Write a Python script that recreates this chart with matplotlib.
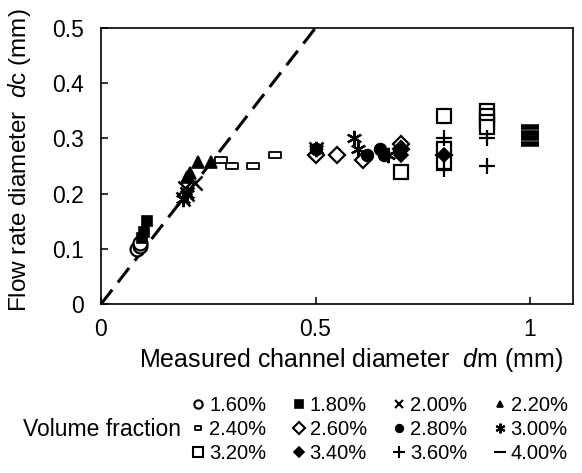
import matplotlib

matplotlib.use("Agg")
import matplotlib.pyplot as plt
from matplotlib.lines import Line2D
from matplotlib.path import Path

plt.rcParams.update(
    {
        "font.family": ["Liberation Sans", "DejaVu Sans"],
        "mathtext.fontset": "custom",
        "mathtext.it": "Liberation Sans:italic",
        "mathtext.rm": "Liberation Sans",
    }
)

# measured channel diameter dm (mm) and flow rate diameter dc (mm), per volume fraction
labels = ["1.60%", "1.80%", "2.00%", "2.20%", "2.40%", "2.60%",
          "2.80%", "3.00%", "3.20%", "3.40%", "3.60%", "4.00%"]

x_160 = [0.085, 0.09, 0.09]
y_160 = [0.10, 0.105, 0.11]
x_180 = [0.095, 0.10, 0.108]
y_180 = [0.12, 0.13, 0.15]
x_200 = [0.19, 0.195, 0.20, 0.22, 0.50]
y_200 = [0.19, 0.21, 0.20, 0.22, 0.28]
x_220 = [0.20, 0.207, 0.226, 0.257]
y_220 = [0.23, 0.237, 0.257, 0.257]
x_240 = [0.28, 0.305, 0.355, 0.405]
y_240 = [0.26, 0.25, 0.25, 0.27]
x_260 = [0.50, 0.55, 0.61, 0.70, 0.70, 0.80]
y_260 = [0.27, 0.27, 0.26, 0.29, 0.28, 0.27]
x_280 = [0.50, 0.62, 0.65, 0.66]
y_280 = [0.28, 0.27, 0.28, 0.27]
x_300 = [0.19, 0.20, 0.50, 0.59, 0.60, 0.67]
y_300 = [0.19, 0.20, 0.28, 0.30, 0.28, 0.27]
x_320 = [0.70, 0.80, 0.80, 0.80, 0.90, 0.90, 0.90, 0.90]
y_320 = [0.24, 0.34, 0.28, 0.255, 0.35, 0.34, 0.33, 0.32]
x_340 = [0.70, 0.70, 0.80]
y_340 = [0.28, 0.27, 0.27]
x_360 = [0.80, 0.80, 0.90, 0.90]
y_360 = [0.30, 0.245, 0.30, 0.25]
x_400 = [1.0, 1.0, 1.0, 1.0]
y_400 = [0.29, 0.30, 0.31, 0.32]

xs = [x_160, x_180, x_200, x_220, x_240, x_260, x_280, x_300, x_320, x_340, x_360, x_400]
ys = [y_160, y_180, y_200, y_220, y_240, y_260, y_280, y_300, y_320, y_340, y_360, y_400]

rect = Path([(-1, -0.5), (1, -0.5), (1, 0.5), (-1, 0.5), (-1, -0.5)],
            [Path.MOVETO, Path.LINETO, Path.LINETO, Path.LINETO, Path.CLOSEPOLY])
asterisk = (6, 2, 0)

# marker, size, face, edge width
styles = [
    ("o", 10, "white", 1.6),
    ("s", 7.5, "black", 1.2),
    ("x", 10, "black", 1.8),
    ("^", 8, "black", 1.2),
    (rect, 8, "white", 1.3),
    ("D", 8, "white", 1.6),
    ("o", 8.5, "black", 1.2),
    (asterisk, 11, "black", 1.6),
    ("s", 10, "white", 1.6),
    ("D", 7, "black", 1.2),
    ("+", 11, "black", 1.6),
    ("_", 13, "black", 4),
]
legend_sizes = [6, 6, 6, 5, 5, 6, 5.5, 7, 7, 5, 8, 8]

fig = plt.figure(figsize=(5.82, 4.73), dpi=100)
ax = fig.add_axes([0.1735, 0.357, 0.811, 0.584])

ax.plot([0, 0.5], [0, 0.5], color="black", lw=2.2, ls=(0, (6, 3)), zorder=1)

handles = []
for (m, ms, fc, mew), x, y, lab, lms in zip(styles, xs, ys, labels, legend_sizes):
    ax.plot(x, y, ls="none", marker=m, ms=ms, mfc=fc, mec="black", mew=mew, zorder=3)
    handles.append(Line2D([], [], ls="none", marker=m, ms=lms, mfc=fc, mec="black",
                          mew=min(mew, 1.5), label=lab))

ax.set_xlim(0, 1.1)
ax.set_ylim(0, 0.5)
ax.set_xticks([0, 0.5, 1])
ax.set_xticklabels(["0", "0.5", "1"])
ax.set_yticks([0, 0.1, 0.2, 0.3, 0.4, 0.5])
ax.set_yticklabels(["0", "0.1", "0.2", "0.3", "0.4", "0.5"])
ax.tick_params(direction="in", length=5, width=1.1, labelsize=16.5)
ax.tick_params(axis="x", pad=10)
ax.tick_params(axis="y", pad=12)
for s in ax.spines.values():
    s.set_linewidth(1.2)

ax.set_xlabel("Measured channel diameter  $\\mathit{d}$m (mm)", fontsize=18)
ax.set_ylabel("Flow rate diameter  $\\mathit{d}$c (mm)", fontsize=17.5)
ax.xaxis.set_label_coords(0.53, -0.15)
ax.yaxis.set_label_coords(-0.145, 0.52)

order = [0, 4, 8, 1, 5, 9, 2, 6, 10, 3, 7, 11]
fig.legend([handles[i] for i in order], [labels[i] for i in order],
           loc="upper left", bbox_to_anchor=(0.33, 0.163), ncol=4, frameon=False,
           fontsize=14.5, handlelength=0.6, handletextpad=0.25, columnspacing=1.3,
           labelspacing=0.25, borderpad=0, borderaxespad=0)
fig.text(0.176, 0.093, "Volume fraction", fontsize=16.5, ha="center", va="center")

fig.savefig("out.png", dpi=100)
